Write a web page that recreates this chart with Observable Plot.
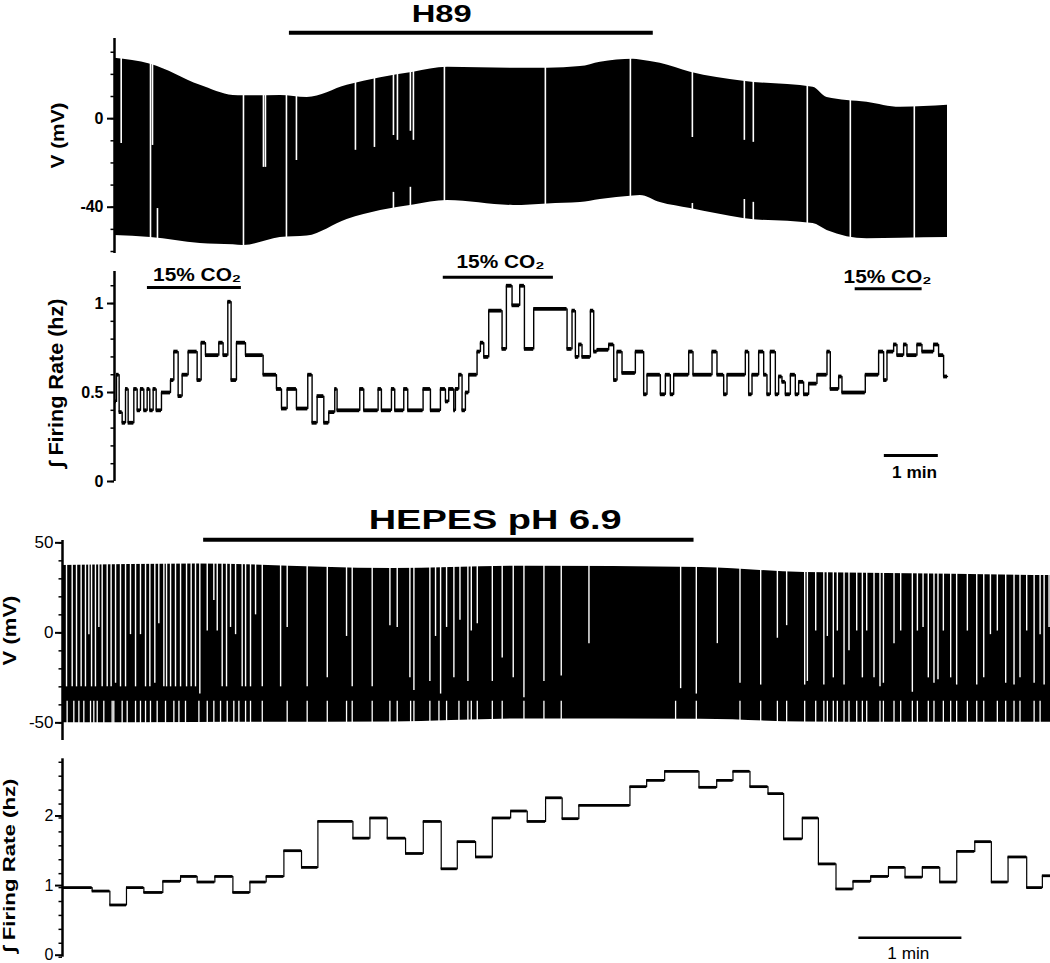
<!DOCTYPE html>
<html>
<head>
<meta charset="utf-8">
<script src="https://cdn.jsdelivr.net/npm/d3@7"></script>
<script src="https://cdn.jsdelivr.net/npm/@observablehq/plot@0.6"></script>
<style>
  html, body { margin: 0; padding: 0; background: #fff; }
  #fig { position: relative; width: 1050px; height: 963px; overflow: hidden; background: #fff; }
  #fig svg { position: absolute; left: 0; }
</style>
</head>
<body>
<div id="fig"></div>
<script>
// ====================== DATA (time in minutes) ======================
// --- Panel 1: H89, membrane potential envelope (mV)
const h89EnvT  = [0, 0.67, 1.59, 2.20, 2.39, 3.07, 3.57, 4.31, 4.93, 5.54, 6.17, 7.39, 8.02, 8.63, 9.00, 9.61, 9.74, 10.11, 10.67, 11.65, 12.94, 13.20, 13.94, 14.56, 15.43];
const h89EnvHi = [27.3, 24.6, 15.1, 10.5, 10.3, 10.5, 9.6, 15.1, 18.5, 21.0, 23.2, 22.8, 22.8, 23.5, 25.5, 26.8, 26.5, 25.0, 21.0, 16.9, 14.2, 9.6, 7.4, 5.1, 6.0];
const h89EnvLo = [-52.8, -53.7, -56.4, -57.0, -57.3, -53.7, -53.0, -45.5, -41.5, -39.0, -37.0, -39.2, -38.5, -37.9, -36.5, -34.9, -34.7, -37.9, -40.6, -45.1, -47.4, -50.5, -54.2, -54.0, -53.7];
// gaps between spikes: [time, lowest mV reached from the top] (-61 = whole trace)
const h89TopGaps = [[0.124,-11.2],[0.667,-61],[0.704,-12.1],[2.389,-61],[2.759,-22],[2.796,-22],[3.185,-61],[3.370,-18.9],[4.463,-14.3],[4.815,-13],[5.167,-7.6],[5.241,-9.8],[5.481,-5.7],[5.537,-9.8],[6.111,-61],[7.981,-61],[9.556,-61],[10.704,-8.5],[11.667,-9.8],[11.833,-10.7],[12.833,-61],[13.63,-61],[14.815,-61]];
// [time, highest mV reached from the bottom]
const h89BottomGaps = [[0.796,-40.6],[5.167,-33.3],[5.481,-31],[10.704,-38.3],[11.667,-36.5],[11.833,-37.8]];
const h89Drug = {label: "H89", start: 3.24, end: 9.98};

// --- Panel 2: H89, integrated firing rate (Hz)
const h89RateT = [0, 0.037, 0.086, 0.142, 0.204, 0.253, 0.358, 0.420, 0.481, 0.543, 0.605, 0.654, 0.716, 0.772, 0.870, 1.037, 1.099, 1.179, 1.253, 1.364, 1.531, 1.605, 1.685, 1.932, 2.012, 2.099, 2.160, 2.259, 2.426, 2.753, 3.000, 3.093, 3.198, 3.370, 3.580, 3.660, 3.753, 3.877, 3.969, 4.080, 4.123, 4.543, 4.617, 4.883, 4.944, 5.130, 5.191, 5.358, 5.432, 5.716, 5.852, 6.037, 6.130, 6.191, 6.284, 6.315, 6.377, 6.438, 6.500, 6.562, 6.716, 6.778, 6.840, 6.932, 7.179, 7.259, 7.364, 7.506, 7.593, 7.765, 8.383, 8.475, 8.537, 8.599, 8.660, 8.815, 8.877, 8.938, 9.154, 9.247, 9.309, 9.401, 9.648, 9.802, 9.864, 10.111, 10.204, 10.296, 10.358, 10.636, 10.716, 11.068, 11.160, 11.284, 11.346, 11.685, 11.747, 11.809, 11.932, 12.025, 12.086, 12.148, 12.241, 12.302, 12.364, 12.426, 12.519, 12.611, 12.673, 12.765, 12.858, 13.012, 13.198, 13.259, 13.414, 13.475, 13.907, 14.154, 14.247, 14.309, 14.432, 14.494, 14.617, 14.679, 14.864, 14.957, 15.173, 15.265, 15.358];
const h89RateV = [0.45, 0.60, 0.39, 0.33, 0.52, 0.33, 0.52, 0.40, 0.52, 0.40, 0.52, 0.40, 0.52, 0.40, 0.50, 0.57, 0.73, 0.48, 0.60, 0.73, 0.57, 0.78, 0.71, 0.78, 0.71, 1.01, 0.57, 0.78, 0.71, 0.60, 0.52, 0.41, 0.52, 0.41, 0.60, 0.33, 0.48, 0.33, 0.39, 0.52, 0.40, 0.52, 0.40, 0.52, 0.40, 0.52, 0.40, 0.52, 0.40, 0.52, 0.40, 0.52, 0.45, 0.52, 0.40, 0.52, 0.60, 0.40, 0.50, 0.60, 0.73, 0.78, 0.70, 0.96, 0.745, 1.10, 0.99, 1.10, 0.745, 0.97, 0.745, 0.96, 0.70, 0.77, 0.70, 0.96, 0.73, 0.74, 0.77, 0.57, 0.73, 0.61, 0.73, 0.49, 0.60, 0.49, 0.60, 0.49, 0.60, 0.73, 0.60, 0.73, 0.60, 0.49, 0.60, 0.73, 0.49, 0.60, 0.73, 0.60, 0.49, 0.73, 0.49, 0.59, 0.56, 0.49, 0.60, 0.49, 0.56, 0.49, 0.55, 0.60, 0.73, 0.52, 0.59, 0.50, 0.60, 0.73, 0.57, 0.73, 0.77, 0.71, 0.77, 0.71, 0.77, 0.73, 0.77, 0.71, 0.59];
const h89End = 15.43;
const co2Label = "15% CO₂";
const co2Start = [0.61, 6.09, 13.72];
const co2End   = [2.35, 8.13, 14.96];

// --- Panel 3: HEPES pH 6.9, membrane potential envelope (mV)
const hepesEnvT  = [0, 1.3, 3.2, 4.5, 6.2, 7.2, 8.0, 9.59];
const hepesEnvHi = [37.4, 38.3, 35.7, 37.0, 36.3, 33.5, 33.0, 31.8];
const hepesEnvLo = [-50.0, -49.8, -49.5, -47.8, -48.0, -49.5, -49.7, -49.7];
const hepesTopGaps = [[0.039,-30],[0.094,-30],[0.136,-30],[0.181,-30],[0.223,-30],[0.256,-1],[0.282,-30],[0.320,-30],[0.353,3],[0.385,-30],[0.434,-30],[0.472,-30],[0.515,-28],[0.563,-30],[0.612,-30],[0.660,-1],[0.709,-30],[0.757,-1],[0.806,-30],[0.848,-30],[0.896,-28],[0.935,5],[0.984,-30],[1.010,-30],[1.049,-30],[1.097,-30],[1.146,-30],[1.204,-30],[1.249,-30],[1.291,-30],[1.333,-34],[1.405,1],[1.469,18],[1.502,1],[1.550,-30],[1.592,-30],[1.631,3],[1.680,-1],[1.744,-30],[1.777,-30],[1.825,-30],[1.874,10],[1.939,-30],[2.117,-30],[2.181,3],[2.375,-30],[2.570,-25],[2.757,-2],[2.812,-30],[3.006,-30],
  [3.178,4],[3.249,3],[3.372,-25],[3.411,-32],[3.566,-27],[3.621,-2],[3.670,-34],[3.728,3],[3.799,-25],[3.858,7],[3.935,-27],[3.968,1],[4.026,5],[4.172,-27],[4.268,-14],[4.375,-25],[4.479,-36],[4.673,-27],[4.841,-24],[5.110,-6],[6.0,-31],[6.152,-34],
  [6.356,-6],[6.576,-28],[6.777,-29],[6.939,-3],[7.029,4],[7.204,-29],[7.23,-27],[7.311,1],[7.39,-29],[7.424,-2],[7.482,-25],[7.521,1],[7.586,-29],[7.634,-10],[7.709,1],[7.764,-25],[7.806,1],[7.877,-25],[7.935,-30],[7.968,-28],[8.071,-6],[8.136,1],[8.249,-33],[8.298,1],[8.353,3],[8.404,-25],[8.459,-28],[8.498,-26],[8.55,1],[8.621,-25],[8.679,-29],[8.783,1],[8.874,-29],[8.942,-25],[9.007,-1],[9.074,1],[9.155,-28],[9.236,-29],[9.294,-25],[9.359,1],[9.431,-28],[9.489,-1],[9.528,-29],[9.576,3]];
const hepesBottomGaps = [0.045,0.11,0.159,0.207,0.272,0.304,0.337,0.401,0.482,0.498,0.579,0.628,0.709,0.757,0.806,0.854,0.919,1.0,1.081,1.13,1.194,1.324,1.405,1.469,1.534,1.599,1.663,1.712,1.777,1.825,1.939,2.181,2.375,2.57,2.757,2.812,3.006,3.178,3.249,3.379,3.411,3.566,3.654,3.728,3.848,3.935,3.968,4.026,4.172,4.268,4.479,4.673,4.841,5.951,6.152,6.576,6.777,6.939,7.029,7.204,7.311,7.39,7.424,7.482,7.521,7.586,7.634,7.709,7.764,7.806,7.935,7.968,8.071,8.136,8.249,8.298,8.404,8.459,8.55,8.621,8.679,8.783,8.874,8.942,9.074,9.155,9.236,9.294,9.431,9.489];
const hepesDrug = {label: "HEPES pH 6.9", start: 1.37, end: 6.13};

// --- Panel 4: HEPES, integrated firing rate (Hz)
const hepesRateT = [0, 0.288, 0.460, 0.621, 0.790, 0.974, 1.146, 1.307, 1.479, 1.654, 1.819, 1.977, 2.149, 2.320, 2.479, 2.819, 2.984, 3.152, 3.330, 3.502, 3.676, 3.832, 4.010, 4.172, 4.350, 4.511, 4.689, 4.850, 5.012, 5.508, 5.670, 5.845, 6.178, 6.350, 6.508, 6.673, 6.848, 7.000, 7.181, 7.337, 7.508, 7.673, 7.845, 8.017, 8.178, 8.346, 8.515, 8.680, 8.855, 9.016, 9.178, 9.359, 9.511];
const hepesRateV = [1.00, 0.95, 0.75, 1.00, 0.93, 1.09, 1.16, 1.08, 1.16, 0.93, 1.08, 1.16, 1.53, 1.29, 1.95, 1.71, 2.00, 1.71, 1.49, 1.95, 1.27, 1.66, 1.44, 2.00, 2.10, 1.95, 2.29, 1.99, 2.18, 2.45, 2.54, 2.67, 2.44, 2.54, 2.67, 2.45, 2.35, 1.70, 2.00, 1.34, 0.98, 1.09, 1.16, 1.29, 1.15, 1.29, 1.08, 1.52, 1.66, 1.08, 1.44, 1.00, 1.17];
const hepesEnd = 9.59;

// axis ticks
const vTicksTop = [-40, 0];
const vMinorTop = [-60, -50, -40, -30, -20, -10, 0, 10, 20, 30];
const rTicksTop = [0, 0.5, 1];
const rMinorTop = [0, 0.1, 0.2, 0.3, 0.4, 0.5, 0.6, 0.7, 0.8, 0.9, 1.0, 1.1];
const vTicksBot = [-50, 0, 50];
const vMinorBot = [-50, -40, -30, -20, -10, 0, 10, 20, 30, 40, 50];
const rTicksBot = [0, 1, 2];
const rMinorBot = [0, 0.2, 0.4, 0.6, 0.8, 1.0, 1.2, 1.4, 1.6, 1.8, 2.0, 2.2, 2.4, 2.6, 2.8];
const scaleBarMinutes = 1;

// ====================== RENDERING ======================
const FONT = "Arial, 'Liberation Sans', Helvetica, sans-serif";
const fig = document.getElementById("fig");
const baseStyle = {background: "transparent", overflow: "visible", fontFamily: FONT, fontSize: "16px", color: "black"};

function envelope(T, Hi, Lo) { return T.map((t, i) => ({t, hi: Hi[i], lo: Lo[i]})); }

function stepMarks(T, V, tEnd, hw, vw) {
  const segs = T.map((t, i) => ({t, v: V[i], t2: i + 1 < T.length ? T[i + 1] : tEnd}));
  const pts = segs.concat([{t: tEnd, v: V[V.length - 1]}]);
  return [
    Plot.line(pts, {x: "t", y: "v", curve: "step-after", stroke: "black", strokeWidth: vw}),
    Plot.ruleY(segs, {y: "v", x1: "t", x2: "t2", stroke: "black", strokeWidth: hw})
  ];
}

function yAxis(major, minor, pad, fs, fw, dy = 0) {
  return [
    Plot.axisY(minor, {tickSize: 3.5, tickFormat: () => "", strokeWidth: 1.5, label: null}),
    Plot.axisY(major, {tickSize: 7, tickPadding: pad, tickFormat: d => String(d), strokeWidth: 2,
      label: null, fontSize: fs, fontWeight: fw, fontFamily: FONT, dy}),
    Plot.ruleX([0], {stroke: "black", strokeWidth: 2.5})
  ];
}

function yLabel(text, dx, dy, fs) {
  return Plot.text([text], {frameAnchor: "left", text: d => d, rotate: -90, dx, dy,
    textAnchor: "middle", lineAnchor: "middle", fontSize: fs, fontWeight: "bold", fontFamily: FONT});
}

function place(svg, top, fits) {
  svg.style.top = top + "px";
  svg.querySelectorAll("text").forEach(el => {
    const k = el.textContent;
    if (fits[k]) { el.setAttribute("textLength", fits[k]); el.setAttribute("lengthAdjust", "spacingAndGlyphs"); }
  });
  fig.appendChild(svg);
}

// ---------- Panel 1 ----------
const y1Dom = [-60.9, 36.2];
const p1 = Plot.plot({
  width: 1050, height: 258, marginTop: 38, marginBottom: 5, marginLeft: 114, marginRight: 103,
  x: {domain: [0, h89End], axis: null},
  y: {domain: y1Dom, axis: null, label: null},
  style: baseStyle,
  marks: [
    Plot.areaY(envelope(h89EnvT, h89EnvHi, h89EnvLo), {x: "t", y1: "lo", y2: "hi", fill: "black", curve: "monotone-x"}),
    Plot.ruleX(h89TopGaps, {x: d => d[0], y1: y1Dom[1], y2: d => d[1], stroke: "white", strokeWidth: 1.6}),
    Plot.ruleX(h89BottomGaps, {x: d => d[0], y1: d => d[1], y2: y1Dom[0], stroke: "white", strokeWidth: 1.6}),
    Plot.ruleY([h89Drug], {y: 38.8, x1: "start", x2: "end", stroke: "black", strokeWidth: 4}),
    Plot.text([h89Drug], {x: 6.06, y: 43.6, text: "label", lineAnchor: "bottom", fontSize: 24, fontWeight: "bold", fontFamily: FONT}),
    yLabel("V (mV)", -57, -10.5, 19),
    ...yAxis(vTicksTop, vMinorTop, 4, 16, "bold")
  ]
});
place(p1, 0, {"H89": 60, "V (mV)": 66});

// ---------- Panel 2 ----------
const co2 = co2Start.map((s, i) => ({s, e: co2End[i], label: co2Label}));
const co2BarY = [1.09, 1.148, 1.083];
const co2TextY = [1.129, 1.202, 1.118];
const co2TextX = [1.53, 7.15, 14.32];
const p2 = Plot.plot({
  width: 1050, height: 240, marginTop: 21, marginBottom: 9, marginLeft: 114, marginRight: 103,
  x: {domain: [0, h89End], axis: null},
  y: {domain: [0, 1.18], axis: null, label: null},
  style: baseStyle,
  marks: [
    ...stepMarks(h89RateT, h89RateV, h89End, 3.8, 1.4),
    Plot.ruleY(co2, {y: (d, i) => co2BarY[i], x1: "s", x2: "e", stroke: "black", strokeWidth: 3}),
    Plot.text(co2, {x: (d, i) => co2TextX[i], y: (d, i) => co2TextY[i], text: "label", lineAnchor: "bottom",
      fontSize: 18, fontWeight: "bold", fontFamily: FONT}),
    Plot.ruleY([{s: 14.26}], {y: 0.146, x1: "s", x2: d => d.s + scaleBarMinutes, stroke: "black", strokeWidth: 3}),
    Plot.text([scaleBarMinutes + " min"], {x: 14.82, y: 0.022, text: d => d, lineAnchor: "bottom",
      fontSize: 16, fontWeight: "bold", fontFamily: FONT}),
    yLabel("∫ Firing Rate (hz)", -58, 6.5, 20),
    ...yAxis(rTicksTop, rMinorTop, 4, 16, "bold")
  ]
});
place(p2, 250, {"15% CO₂": 88, "1 min": 45, "∫ Firing Rate (hz)": 169});

// ---------- Panel 3 ----------
const y3Dom = [-59.8, 51.3];
const p3 = Plot.plot({
  width: 1050, height: 255, marginTop: 50, marginBottom: 5, marginLeft: 62, marginRight: 0,
  x: {domain: [0, hepesEnd], axis: null},
  y: {domain: y3Dom, axis: null, label: null},
  style: baseStyle,
  marks: [
    Plot.areaY(envelope(hepesEnvT, hepesEnvHi, hepesEnvLo), {x: "t", y1: "lo", y2: "hi", fill: "black", curve: "monotone-x"}),
    Plot.ruleX(hepesTopGaps, {x: d => d[0], y1: y3Dom[1], y2: d => d[1], stroke: "white", strokeWidth: 1.4}),
    Plot.ruleX(hepesBottomGaps, {x: d => d, y1: -38, y2: -53, stroke: "white", strokeWidth: 1.3}),
    Plot.ruleY([hepesDrug], {y: 51.7, x1: "start", x2: "end", stroke: "black", strokeWidth: 4}),
    Plot.text([hepesDrug], {x: 4.2, y: 57.9, text: "label", lineAnchor: "bottom", fontSize: 27, fontWeight: "bold", fontFamily: FONT}),
    yLabel("V (mV)", -53, -10, 19),
    ...yAxis(vTicksBot, vMinorBot, 2, 17, "normal")
  ]
});
place(p3, 490, {"HEPES pH 6.9": 253, "V (mV)": 70});

// ---------- Panel 4 ----------
const p4 = Plot.plot({
  width: 1050, height: 218, marginTop: 13.3, marginBottom: 6.3, marginLeft: 62, marginRight: 0,
  x: {domain: [0, hepesEnd], axis: null},
  y: {domain: [0, 2.85], axis: null, label: null},
  style: baseStyle,
  marks: [
    ...stepMarks(hepesRateT, hepesRateV, hepesEnd, 2.8, 1.2),
    Plot.ruleY([{s: 7.73}], {y: 0.278, x1: "s", x2: d => d.s + scaleBarMinutes, stroke: "black", strokeWidth: 2.5}),
    Plot.text([scaleBarMinutes + " min"], {x: 8.21, y: -0.019, text: d => d, lineAnchor: "bottom",
      fontSize: 16, fontWeight: "normal", fontFamily: FONT}),
    yLabel("∫ Firing Rate (hz)", -52.5, 7.5, 17),
    ...yAxis(rTicksBot, rMinorBot, 2, 16, "normal", -2)
  ]
});
place(p4, 745, {"1 min": 42, "∫ Firing Rate (hz)": 174});
</script>
</body>
</html>
